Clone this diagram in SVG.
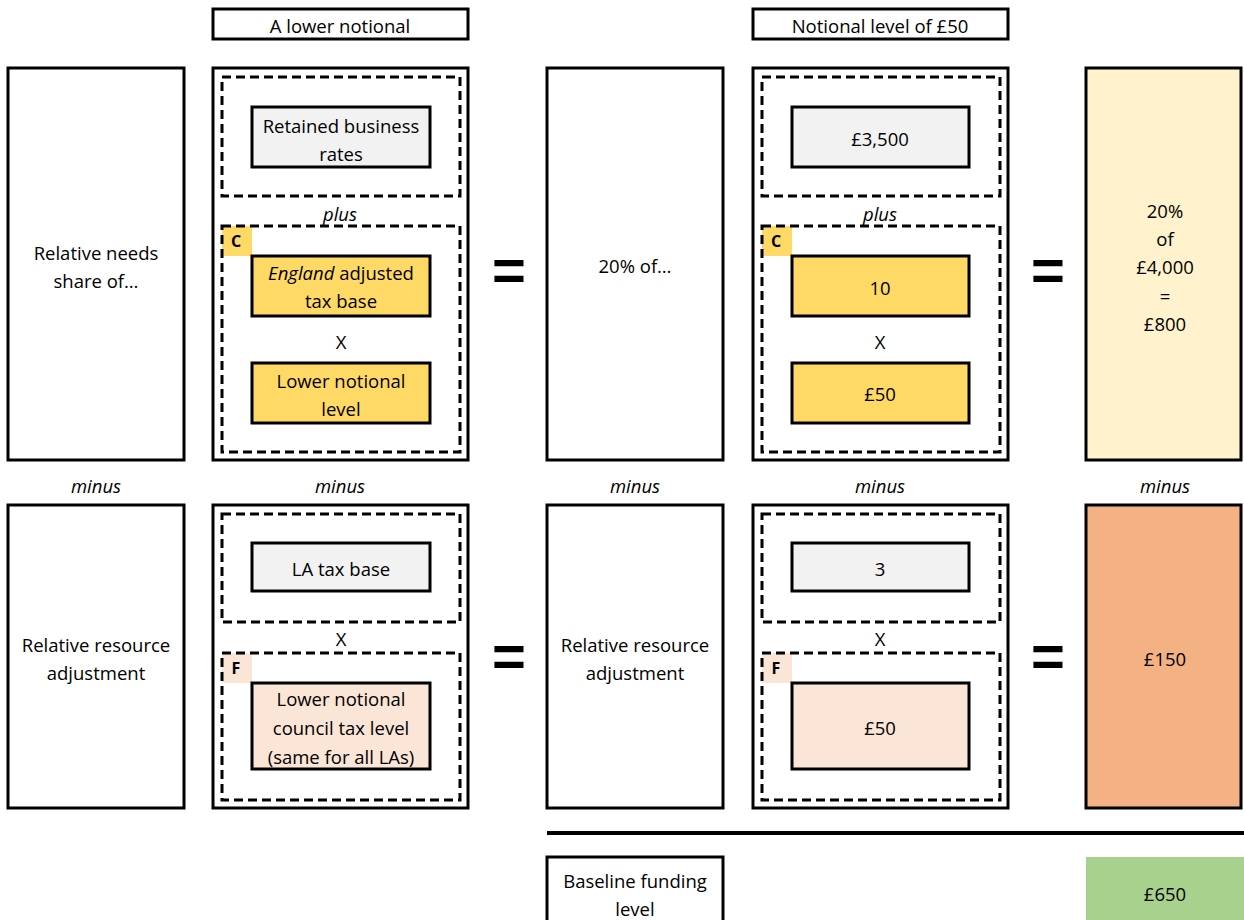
<svg xmlns="http://www.w3.org/2000/svg" width="1244" height="920" viewBox="0 0 1244 920">
<style>
text{font-family:"Open Sans","Liberation Sans",sans-serif;font-size:18.5px;fill:#000;text-anchor:middle;dominant-baseline:central}
.it{font-style:italic}
.b{font-weight:bold;font-size:16px}
.outer{fill:#fff;stroke:#000;stroke-width:3}
.dash{fill:none;stroke:#000;stroke-width:3;stroke-dasharray:9 5}
.inner{stroke:#000;stroke-width:3}
.gray{fill:#f2f2f2}
.yel{fill:#ffd966}
.peach{fill:#fbe5d6}
.eq{font-family:"Liberation Sans",sans-serif;font-weight:bold;font-size:58px;dominant-baseline:auto}
</style>
<rect width="1244" height="920" fill="#fff"/>

<g id="hdr1"><rect x="213" y="9" width="255" height="30" class="outer"/><text x="340" y="25">A lower notional</text></g>
<g id="hdr2"><rect x="753" y="9" width="255" height="30" class="outer"/><text x="880" y="25">Notional level of £50</text></g>

<g id="c1top"><rect x="8" y="68" width="176" height="392" class="outer"/><text x="96" y="252">Relative needs</text><text x="96" y="280">share of…</text></g>

<g id="c2top">
<rect x="213" y="68" width="255" height="392" class="outer"/>
<rect x="222" y="77" width="238" height="119" class="dash"/>
<rect x="252" y="107" width="178" height="60" class="inner gray"/>
<text x="341" y="125">Retained business</text><text x="341" y="153">rates</text>
<text x="340" y="213" class="it">plus</text>
<rect x="222" y="226" width="30" height="30" fill="#ffd966"/>
<text x="236" y="241" class="b">C</text>
<rect x="222" y="226" width="238" height="226" class="dash"/>
<rect x="252" y="256" width="178" height="60" class="inner yel"/>
<text x="341" y="272"><tspan class="it">England</tspan> adjusted</text><text x="341" y="300">tax base</text>
<text x="341" y="341">X</text>
<rect x="252" y="363" width="178" height="60" class="inner yel"/>
<text x="341" y="380">Lower notional</text><text x="341" y="408">level</text>
</g>

<g id="c3top"><rect x="547" y="68" width="176" height="392" class="outer"/><text x="635" y="265">20% of…</text></g>

<g id="c4top">
<rect x="753" y="68" width="255" height="392" class="outer"/>
<rect x="762" y="77" width="238" height="119" class="dash"/>
<rect x="792" y="107" width="177" height="60" class="inner gray"/>
<text x="880" y="138">£3,500</text>
<text x="880" y="213" class="it">plus</text>
<rect x="762" y="226" width="30" height="30" fill="#ffd966"/>
<text x="776" y="241" class="b">C</text>
<rect x="762" y="226" width="238" height="226" class="dash"/>
<rect x="792" y="256" width="177" height="60" class="inner yel"/>
<text x="880" y="287">10</text>
<text x="880" y="341">X</text>
<rect x="792" y="363" width="177" height="60" class="inner yel"/>
<text x="880" y="393">£50</text>
</g>

<g id="c5top"><rect x="1086" y="68" width="155" height="392" fill="#fff2cc" stroke="#000" stroke-width="3"/>
<text x="1165" y="210">20%</text><text x="1165" y="238">of</text><text x="1165" y="266">£4,000</text><text x="1165" y="295">=</text><text x="1165" y="323">£800</text></g>

<g id="eqs">
<text x="509" y="290" class="eq">=</text>
<text x="1048" y="290" class="eq">=</text>
<text x="509" y="676" class="eq">=</text>
<text x="1048" y="676" class="eq">=</text>
</g>

<g id="minus">
<text x="96" y="485" class="it">minus</text>
<text x="340" y="485" class="it">minus</text>
<text x="635" y="485" class="it">minus</text>
<text x="880" y="485" class="it">minus</text>
<text x="1165" y="485" class="it">minus</text>
</g>

<g id="c1bot"><rect x="8" y="505" width="176" height="303" class="outer"/><text x="96" y="644">Relative resource</text><text x="96" y="672">adjustment</text></g>

<g id="c2bot">
<rect x="213" y="505" width="255" height="303" class="outer"/>
<rect x="222" y="514" width="238" height="108" class="dash"/>
<rect x="252" y="543" width="178" height="48" class="inner gray"/>
<text x="341" y="568">LA tax base</text>
<text x="341" y="638">X</text>
<rect x="222" y="653" width="30" height="30" fill="#fbe5d6"/>
<text x="236" y="668" class="b">F</text>
<rect x="222" y="653" width="238" height="147" class="dash"/>
<rect x="252" y="683" width="178" height="86" class="inner peach"/>
<text x="341" y="698">Lower notional</text><text x="341" y="727">council tax level</text><text x="341" y="756">(same for all LAs)</text>
</g>

<g id="c3bot"><rect x="547" y="505" width="176" height="303" class="outer"/><text x="635" y="644">Relative resource</text><text x="635" y="672">adjustment</text></g>

<g id="c4bot">
<rect x="753" y="505" width="255" height="303" class="outer"/>
<rect x="762" y="514" width="238" height="108" class="dash"/>
<rect x="792" y="543" width="177" height="48" class="inner gray"/>
<text x="880" y="568">3</text>
<text x="880" y="638">X</text>
<rect x="762" y="653" width="30" height="30" fill="#fbe5d6"/>
<text x="776" y="668" class="b">F</text>
<rect x="762" y="653" width="238" height="147" class="dash"/>
<rect x="792" y="683" width="177" height="86" class="inner peach"/>
<text x="880" y="727">£50</text>
</g>

<g id="c5bot"><rect x="1086" y="505" width="155" height="303" fill="#f4b183" stroke="#000" stroke-width="3"/><text x="1165" y="658">£150</text></g>

<g id="connectors"><line x1="547" y1="833" x2="1244" y2="833" stroke="#000" stroke-width="4"/></g>

<g id="baseline"><rect x="547" y="857" width="176" height="70" class="outer"/><text x="635" y="880">Baseline funding</text><text x="635" y="908">level</text></g>
<g id="result"><rect x="1086" y="857" width="158" height="70" fill="#a9d18e"/><text x="1165" y="893">£650</text></g>
</svg>
